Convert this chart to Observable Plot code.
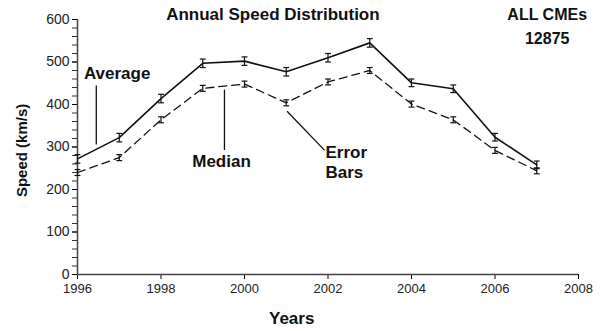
<!DOCTYPE html>
<html><head><meta charset="utf-8">
<script src="https://cdn.jsdelivr.net/npm/d3@7"></script>
<script src="https://cdn.jsdelivr.net/npm/@observablehq/plot@0.6"></script>
<style>
body{margin:0;background:#fff;}
svg{font-family:"Liberation Sans",Arial,sans-serif;}
</style>
</head><body><div id="chart"></div>
<script>
const years = [1996,1997,1998,1999,2000,2001,2002,2003,2004,2005,2006,2007];
const average = [272,322,414,497,502,477,510,545,451,437,323,258];
const median  = [240,275,364,438,448,404,453,480,401,364,292,244];
const avgErr = [10,10,10,10,10,10,10,10,9,9,9,9];
const medErr = [7,7,7,7,7,7,7,7,7,7,7,7];
const xTicks = [1996,1998,2000,2002,2004,2006,2008];
const yTicks = [0,100,200,300,400,500,600];

const avgData = years.map((y,i)=>({year:y, v:average[i], e:avgErr[i]}));
const medData = years.map((y,i)=>({year:y, v:median[i], e:medErr[i]}));
const allData = avgData.concat(medData);
const cap = 0.07;

const centerNotes = [
  {text:"Average", x:1996.95, y:474},
  {text:"Median", x:1999.45, y:266}
];
const startNotes = [
  {text:"Error", x:2001.94, y:287},
  {text:"Bars", x:2001.94, y:240}
];
const pointers = [
  {x1:1996.45, y1:445, x2:1996.45, y2:306},
  {x1:1999.52, y1:435, x2:1999.52, y2:293},
  {x1:2001.02, y1:384, x2:2001.92, y2:292}
];

const bold = {fontWeight:"bold", fill:"#111"};
const chart = Plot.plot({
  width:602, height:331,
  marginLeft:77, marginRight:24, marginTop:19, marginBottom:57,
  style:{fontFamily:"Liberation Sans, Arial, sans-serif", background:"#fff"},
  x:{domain:[1996,2008]},
  y:{domain:[0,600]},
  marks:[
    Plot.axisY({ticks:d3.range(0,601,20), tickFormat:()=>"", tickSize:5, stroke:"#333", label:null}),
    Plot.axisY({ticks:yTicks, tickSize:5, tickPadding:3, fontSize:14, fill:"#222", label:null, tickFormat:d=>String(d)}),
    Plot.axisX({ticks:xTicks, tickSize:5, tickPadding:4, fontSize:13, fill:"#222", label:null, tickFormat:d=>String(d)}),
    Plot.ruleX([1996], {y1:0, y2:600, stroke:"#444", strokeWidth:1.5}),
    Plot.ruleY([0], {x1:1996, x2:2008, stroke:"#444", strokeWidth:1.5}),
    Plot.line(avgData, {x:"year", y:"v", stroke:"#111", strokeWidth:1.6}),
    Plot.line(medData, {x:"year", y:"v", stroke:"#111", strokeWidth:1.3, strokeDasharray:"8,5"}),
    Plot.link(allData, {x1:"year", x2:"year", y1:d=>d.v-d.e, y2:d=>d.v+d.e, stroke:"#111", strokeWidth:1.2}),
    Plot.link(allData, {x1:d=>d.year-cap, x2:d=>d.year+cap, y1:d=>d.v-d.e, y2:d=>d.v-d.e, stroke:"#111", strokeWidth:1.2}),
    Plot.link(allData, {x1:d=>d.year-cap, x2:d=>d.year+cap, y1:d=>d.v+d.e, y2:d=>d.v+d.e, stroke:"#111", strokeWidth:1.2}),
    Plot.link(pointers, {x1:"x1", y1:"y1", x2:"x2", y2:"y2", stroke:"#111", strokeWidth:1.3}),
    Plot.text(centerNotes, {x:"x", y:"y", text:"text", textAnchor:"middle", fontSize:17, ...bold}),
    Plot.text(startNotes, {x:"x", y:"y", text:"text", textAnchor:"start", fontSize:17, ...bold}),
    Plot.text(["Annual Speed Distribution"], {x:2000.68, y:612, text:d=>d, fontSize:17, ...bold}),
    Plot.text(["ALL CMEs"], {x:2007.25, y:612, text:d=>d, fontSize:16, ...bold}),
    Plot.text(["12875"], {x:2007.25, y:554, text:d=>d, fontSize:16, ...bold}),
    Plot.text(["Years"], {x:2001.13, y:0, dy:44, text:d=>d, fontSize:17, ...bold}),
    Plot.text(["Speed (km/s)"], {x:1996, y:292, dx:-55, rotate:-90, text:d=>d, fontSize:15, ...bold})
  ]
});
document.getElementById("chart").appendChild(chart);
</script>
</body></html>
